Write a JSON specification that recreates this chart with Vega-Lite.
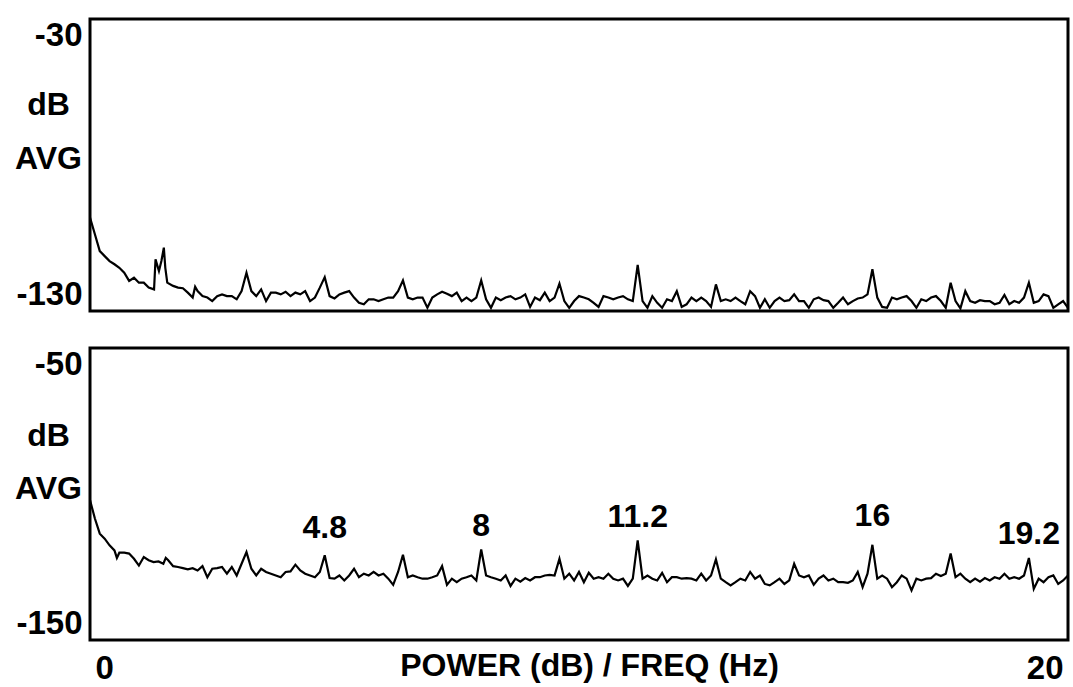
{
"$schema": "https://vega.github.io/schema/vega-lite/v6.json",
"background": "white",
"padding": {"left": 13, "top": 17, "right": 2, "bottom": 2},
"spacing": 33,
"config": {
  "view": {"stroke": "black", "strokeWidth": 3},
  "font": "Liberation Sans",
  "axis": {"grid": false, "domain": false, "ticks": false, "labelFont": "Liberation Sans", "labelFontWeight": "bold", "labelFontSize": 33, "labelColor": "black", "labelExpr": "'' + datum.value", "titleFont": "Liberation Sans", "titleFontWeight": "bold", "titleFontSize": 32, "titleColor": "black"}
},
"datasets": {
  "top": [
{"f":0,"db":-98.0},{"f":0.1,"db":-103.7},{"f":0.2,"db":-109.5},{"f":0.3,"db":-111.2},{"f":0.4,"db":-112.9},{"f":0.5,"db":-114.0},{"f":0.6,"db":-115.2},{"f":0.7,"db":-116.9},{"f":0.8,"db":-119.7},{"f":0.9,"db":-118.6},
{"f":1.0,"db":-120.3},{"f":1.1,"db":-120.3},{"f":1.2,"db":-122.0},{"f":1.31,"db":-122.6},{"f":1.34,"db":-112.3},{"f":1.41,"db":-116.3},{"f":1.46,"db":-112.9},{"f":1.51,"db":-108.3},{"f":1.54,"db":-115.2},{"f":1.58,"db":-120.3},
{"f":1.7,"db":-121.4},{"f":1.8,"db":-122.0},{"f":1.9,"db":-122.2},{"f":2.0,"db":-123.7},{"f":2.1,"db":-125.4},{"f":2.15,"db":-121.7},{"f":2.2,"db":-123.2},{"f":2.3,"db":-124.9},{"f":2.4,"db":-125.4},{"f":2.5,"db":-126.6},
{"f":2.6,"db":-124.9},{"f":2.7,"db":-124.3},{"f":2.8,"db":-124.9},{"f":2.9,"db":-124.9},{"f":3.0,"db":-126.0},{"f":3.1,"db":-123.2},{"f":3.2,"db":-116.9},{"f":3.3,"db":-123.2},{"f":3.4,"db":-124.9},{"f":3.5,"db":-122.6},
{"f":3.6,"db":-126.6},{"f":3.7,"db":-123.7},{"f":3.8,"db":-123.7},{"f":3.9,"db":-124.3},{"f":4.0,"db":-123.4},{"f":4.1,"db":-124.9},{"f":4.2,"db":-123.7},{"f":4.3,"db":-124.3},{"f":4.4,"db":-123.2},{"f":4.5,"db":-126.6},
{"f":4.6,"db":-125.4},{"f":4.7,"db":-122.0},{"f":4.8,"db":-118.4},{"f":4.9,"db":-124.9},{"f":5.0,"db":-125.7},{"f":5.1,"db":-124.3},{"f":5.2,"db":-123.7},{"f":5.3,"db":-123.2},{"f":5.4,"db":-125.4},{"f":5.5,"db":-127.2},
{"f":5.6,"db":-127.7},{"f":5.7,"db":-126.0},{"f":5.8,"db":-126.0},{"f":5.9,"db":-126.6},{"f":6.0,"db":-126.0},{"f":6.1,"db":-125.4},{"f":6.2,"db":-125.4},{"f":6.3,"db":-123.2},{"f":6.4,"db":-119.5},{"f":6.5,"db":-125.4},
{"f":6.6,"db":-126.0},{"f":6.7,"db":-125.4},{"f":6.8,"db":-125.4},{"f":6.9,"db":-128.9},{"f":7.0,"db":-125.4},{"f":7.1,"db":-124.3},{"f":7.2,"db":-123.4},{"f":7.3,"db":-124.1},{"f":7.4,"db":-124.9},{"f":7.5,"db":-123.7},
{"f":7.6,"db":-126.6},{"f":7.7,"db":-125.4},{"f":7.8,"db":-126.6},{"f":7.9,"db":-125.4},{"f":8.0,"db":-119.5},{"f":8.1,"db":-126.0},{"f":8.2,"db":-128.9},{"f":8.3,"db":-125.4},{"f":8.4,"db":-126.3},{"f":8.5,"db":-125.4},
{"f":8.6,"db":-124.9},{"f":8.7,"db":-126.0},{"f":8.8,"db":-125.4},{"f":8.9,"db":-124.3},{"f":9.0,"db":-128.6},{"f":9.1,"db":-125.4},{"f":9.2,"db":-126.3},{"f":9.3,"db":-123.7},{"f":9.4,"db":-126.6},{"f":9.5,"db":-125.4},
{"f":9.6,"db":-120.6},{"f":9.7,"db":-126.6},{"f":9.8,"db":-128.9},{"f":9.9,"db":-126.6},{"f":10.0,"db":-124.9},{"f":10.1,"db":-125.4},{"f":10.2,"db":-126.0},{"f":10.3,"db":-127.2},{"f":10.4,"db":-128.6},{"f":10.5,"db":-124.9},
{"f":10.6,"db":-125.4},{"f":10.7,"db":-126.0},{"f":10.8,"db":-125.4},{"f":10.9,"db":-124.9},{"f":11.0,"db":-126.0},{"f":11.1,"db":-126.6},{"f":11.2,"db":-114.2},{"f":11.3,"db":-126.6},{"f":11.4,"db":-128.9},{"f":11.5,"db":-124.9},
{"f":11.6,"db":-127.2},{"f":11.7,"db":-128.9},{"f":11.8,"db":-126.0},{"f":11.9,"db":-126.6},{"f":12.0,"db":-123.2},{"f":12.1,"db":-128.6},{"f":12.2,"db":-127.7},{"f":12.3,"db":-125.4},{"f":12.4,"db":-126.6},{"f":12.5,"db":-125.4},
{"f":12.6,"db":-126.6},{"f":12.7,"db":-128.6},{"f":12.8,"db":-120.9},{"f":12.9,"db":-126.6},{"f":13.0,"db":-126.0},{"f":13.1,"db":-126.6},{"f":13.2,"db":-125.4},{"f":13.3,"db":-126.6},{"f":13.4,"db":-127.7},{"f":13.5,"db":-123.2},
{"f":13.6,"db":-124.9},{"f":13.7,"db":-128.9},{"f":13.8,"db":-126.0},{"f":13.9,"db":-128.9},{"f":14.0,"db":-126.6},{"f":14.1,"db":-125.4},{"f":14.2,"db":-126.6},{"f":14.3,"db":-126.3},{"f":14.4,"db":-124.3},{"f":14.5,"db":-126.6},
{"f":14.6,"db":-126.6},{"f":14.7,"db":-128.9},{"f":14.8,"db":-126.0},{"f":14.9,"db":-125.4},{"f":15.0,"db":-126.3},{"f":15.1,"db":-126.6},{"f":15.2,"db":-128.9},{"f":15.3,"db":-127.2},{"f":15.4,"db":-125.4},{"f":15.5,"db":-127.7},
{"f":15.6,"db":-126.6},{"f":15.7,"db":-125.7},{"f":15.8,"db":-125.4},{"f":15.9,"db":-124.3},{"f":16.0,"db":-115.7},{"f":16.1,"db":-125.4},{"f":16.2,"db":-128.6},{"f":16.3,"db":-128.9},{"f":16.4,"db":-125.4},{"f":16.5,"db":-126.0},
{"f":16.6,"db":-125.4},{"f":16.7,"db":-124.9},{"f":16.8,"db":-126.6},{"f":16.9,"db":-128.9},{"f":17.0,"db":-126.0},{"f":17.1,"db":-126.6},{"f":17.2,"db":-125.4},{"f":17.3,"db":-124.9},{"f":17.4,"db":-126.6},{"f":17.5,"db":-128.9},
{"f":17.6,"db":-120.3},{"f":17.7,"db":-126.6},{"f":17.8,"db":-129.1},{"f":17.9,"db":-123.2},{"f":18.0,"db":-126.6},{"f":18.1,"db":-127.2},{"f":18.2,"db":-126.3},{"f":18.3,"db":-126.6},{"f":18.4,"db":-126.6},{"f":18.5,"db":-127.7},
{"f":18.6,"db":-127.2},{"f":18.7,"db":-124.5},{"f":18.8,"db":-127.7},{"f":18.9,"db":-126.6},{"f":19.0,"db":-127.2},{"f":19.1,"db":-125.4},{"f":19.2,"db":-120.3},{"f":19.3,"db":-127.2},{"f":19.4,"db":-126.6},{"f":19.5,"db":-124.3},
{"f":19.6,"db":-124.9},{"f":19.7,"db":-128.9},{"f":19.8,"db":-127.7},{"f":19.9,"db":-126.6},{"f":20.0,"db":-128.9}
  ],
  "bot": [
{"f":0,"db":-102.1},{"f":0.1,"db":-108.4},{"f":0.2,"db":-113.6},{"f":0.3,"db":-115.3},{"f":0.4,"db":-117.6},{"f":0.5,"db":-119.3},{"f":0.55,"db":-121.9},{"f":0.6,"db":-120.1},{"f":0.7,"db":-120.1},{"f":0.8,"db":-120.4},
{"f":0.9,"db":-122.2},{"f":1.0,"db":-124.5},{"f":1.1,"db":-121.6},{"f":1.2,"db":-122.7},{"f":1.3,"db":-123.3},{"f":1.4,"db":-123.1},{"f":1.5,"db":-123.9},{"f":1.55,"db":-121.9},{"f":1.6,"db":-122.7},{"f":1.7,"db":-124.7},
{"f":1.8,"db":-125.0},{"f":1.9,"db":-125.4},{"f":2.0,"db":-125.8},{"f":2.1,"db":-125.4},{"f":2.2,"db":-126.2},{"f":2.3,"db":-124.7},{"f":2.4,"db":-128.5},{"f":2.5,"db":-125.6},{"f":2.6,"db":-125.4},{"f":2.7,"db":-125.0},
{"f":2.8,"db":-127.3},{"f":2.9,"db":-125.0},{"f":3.0,"db":-127.9},{"f":3.1,"db":-123.9},{"f":3.2,"db":-119.9},{"f":3.3,"db":-125.6},{"f":3.4,"db":-127.9},{"f":3.5,"db":-125.6},{"f":3.6,"db":-126.7},{"f":3.7,"db":-127.3},
{"f":3.8,"db":-127.9},{"f":3.9,"db":-128.5},{"f":4.0,"db":-126.7},{"f":4.1,"db":-126.5},{"f":4.2,"db":-124.2},{"f":4.3,"db":-126.2},{"f":4.4,"db":-127.3},{"f":4.5,"db":-127.9},{"f":4.6,"db":-128.5},{"f":4.7,"db":-126.7},
{"f":4.8,"db":-121.0},{"f":4.9,"db":-128.8},{"f":5.0,"db":-129.0},{"f":5.1,"db":-127.9},{"f":5.2,"db":-129.6},{"f":5.3,"db":-127.9},{"f":5.4,"db":-125.6},{"f":5.5,"db":-128.5},{"f":5.6,"db":-127.3},{"f":5.7,"db":-127.9},
{"f":5.8,"db":-126.7},{"f":5.9,"db":-127.9},{"f":6.0,"db":-127.3},{"f":6.1,"db":-129.0},{"f":6.2,"db":-131.1},{"f":6.3,"db":-126.7},{"f":6.4,"db":-120.8},{"f":6.5,"db":-128.5},{"f":6.6,"db":-127.9},{"f":6.7,"db":-128.5},
{"f":6.8,"db":-129.0},{"f":6.9,"db":-129.0},{"f":7.0,"db":-128.5},{"f":7.1,"db":-127.9},{"f":7.2,"db":-124.7},{"f":7.3,"db":-131.1},{"f":7.4,"db":-129.0},{"f":7.5,"db":-130.2},{"f":7.6,"db":-129.0},{"f":7.7,"db":-128.5},
{"f":7.8,"db":-127.9},{"f":7.9,"db":-129.6},{"f":8.0,"db":-119.0},{"f":8.1,"db":-127.9},{"f":8.2,"db":-128.5},{"f":8.3,"db":-129.0},{"f":8.4,"db":-129.6},{"f":8.5,"db":-127.9},{"f":8.6,"db":-131.5},{"f":8.7,"db":-129.0},
{"f":8.8,"db":-130.0},{"f":8.9,"db":-128.8},{"f":9.0,"db":-129.6},{"f":9.1,"db":-128.5},{"f":9.2,"db":-128.5},{"f":9.3,"db":-127.9},{"f":9.4,"db":-127.7},{"f":9.5,"db":-127.9},{"f":9.6,"db":-122.2},{"f":9.7,"db":-129.0},
{"f":9.8,"db":-127.3},{"f":9.9,"db":-129.6},{"f":10.0,"db":-126.7},{"f":10.1,"db":-130.2},{"f":10.2,"db":-127.0},{"f":10.3,"db":-129.0},{"f":10.4,"db":-128.5},{"f":10.5,"db":-129.0},{"f":10.6,"db":-127.3},{"f":10.7,"db":-129.0},
{"f":10.8,"db":-129.6},{"f":10.9,"db":-129.0},{"f":11.0,"db":-131.5},{"f":11.1,"db":-129.0},{"f":11.2,"db":-115.9},{"f":11.3,"db":-129.0},{"f":11.4,"db":-127.9},{"f":11.5,"db":-129.0},{"f":11.6,"db":-129.6},{"f":11.7,"db":-127.0},
{"f":11.8,"db":-130.2},{"f":11.9,"db":-128.5},{"f":12.0,"db":-128.5},{"f":12.1,"db":-129.0},{"f":12.2,"db":-128.8},{"f":12.3,"db":-129.0},{"f":12.4,"db":-129.6},{"f":12.5,"db":-127.3},{"f":12.6,"db":-129.6},{"f":12.7,"db":-127.9},
{"f":12.8,"db":-122.4},{"f":12.9,"db":-129.0},{"f":13.0,"db":-130.2},{"f":13.1,"db":-131.3},{"f":13.2,"db":-130.2},{"f":13.3,"db":-129.0},{"f":13.4,"db":-129.6},{"f":13.5,"db":-126.7},{"f":13.6,"db":-129.0},{"f":13.7,"db":-127.9},
{"f":13.8,"db":-130.8},{"f":13.9,"db":-131.3},{"f":14.0,"db":-130.2},{"f":14.1,"db":-129.0},{"f":14.2,"db":-130.8},{"f":14.3,"db":-129.6},{"f":14.4,"db":-123.9},{"f":14.5,"db":-127.9},{"f":14.6,"db":-128.5},{"f":14.7,"db":-127.9},
{"f":14.8,"db":-131.1},{"f":14.9,"db":-129.0},{"f":15.0,"db":-127.9},{"f":15.1,"db":-129.6},{"f":15.2,"db":-129.0},{"f":15.3,"db":-130.2},{"f":15.4,"db":-130.2},{"f":15.5,"db":-130.4},{"f":15.6,"db":-129.6},{"f":15.7,"db":-126.7},
{"f":15.8,"db":-131.9},{"f":15.9,"db":-127.3},{"f":16.0,"db":-117.4},{"f":16.1,"db":-129.0},{"f":16.2,"db":-127.9},{"f":16.3,"db":-129.0},{"f":16.4,"db":-131.9},{"f":16.5,"db":-130.2},{"f":16.6,"db":-127.9},{"f":16.7,"db":-129.0},
{"f":16.8,"db":-133.0},{"f":16.9,"db":-129.0},{"f":17.0,"db":-129.6},{"f":17.1,"db":-129.0},{"f":17.2,"db":-128.8},{"f":17.3,"db":-127.3},{"f":17.4,"db":-128.1},{"f":17.5,"db":-127.3},{"f":17.6,"db":-120.4},{"f":17.7,"db":-128.5},
{"f":17.8,"db":-127.3},{"f":17.9,"db":-129.0},{"f":18.0,"db":-130.2},{"f":18.1,"db":-129.0},{"f":18.2,"db":-130.0},{"f":18.3,"db":-128.8},{"f":18.4,"db":-129.6},{"f":18.5,"db":-128.5},{"f":18.6,"db":-129.0},{"f":18.7,"db":-127.3},
{"f":18.8,"db":-129.0},{"f":18.9,"db":-128.5},{"f":19.0,"db":-129.0},{"f":19.1,"db":-127.9},{"f":19.2,"db":-121.9},{"f":19.3,"db":-132.5},{"f":19.4,"db":-129.0},{"f":19.5,"db":-130.2},{"f":19.6,"db":-128.5},{"f":19.7,"db":-127.9},
{"f":19.8,"db":-130.8},{"f":19.9,"db":-129.6},{"f":20.0,"db":-127.9}
  ],
  "ann": [
    {"f":4.8,"db":-111.7,"label":"4.8"},
    {"f":8.0,"db":-111.1,"label":"8"},
    {"f":11.2,"db":-107.9,"label":"11.2"},
    {"f":16.0,"db":-107.4,"label":"16"},
    {"f":19.2,"db":-113.7,"label":"19.2"}
  ]
},
"vconcat": [
  {
    "width": 978, "height": 292,
    "data": {"name": "top"},
    "mark": {"type": "line", "color": "black", "strokeWidth": 2.2, "clip": true},
    "encoding": {
      "x": {"field": "f", "type": "quantitative", "scale": {"domain": [0, 20], "nice": false}, "axis": null},
      "y": {"field": "db", "type": "quantitative", "scale": {"domain": [-130, -30], "nice": false},
        "axis": {"values": [-30, -130], "labelFlush": true, "labelPadding": 8, "title": ["dB", "AVG"], "titleAngle": 0, "titleAlign": "center", "titleBaseline": "alphabetic", "titleX": -42, "titleY": 95, "titleLineHeight": 54}}
    }
  },
  {
    "width": 978, "height": 292,
    "layer": [
      {
        "data": {"name": "bot"},
        "mark": {"type": "line", "color": "black", "strokeWidth": 2.2, "clip": true},
        "encoding": {
          "x": {"field": "f", "type": "quantitative", "scale": {"domain": [0, 20], "nice": false},
            "axis": {"values": [0, 20], "labelFlush": true, "labelFlushOffset": -5, "labelPadding": 12, "title": "POWER (dB) / FREQ (Hz)", "titleX": 499, "titleY": 25, "titleBaseline": "middle", "titleAlign": "center"}},
          "y": {"field": "db", "type": "quantitative", "scale": {"domain": [-150, -50], "nice": false},
            "axis": {"values": [-50, -150], "labelFlush": true, "labelPadding": 8, "title": ["dB", "AVG"], "titleAngle": 0, "titleAlign": "center", "titleBaseline": "alphabetic", "titleX": -42, "titleY": 97, "titleLineHeight": 53}}
        }
      },
      {
        "data": {"name": "ann"},
        "mark": {"type": "text", "font": "Liberation Sans", "fontWeight": "bold", "fontSize": 32, "color": "black", "align": "center", "baseline": "middle"},
        "encoding": {
          "x": {"field": "f", "type": "quantitative"},
          "y": {"field": "db", "type": "quantitative"},
          "text": {"field": "label"}
        }
      }
    ]
  }
]
}
